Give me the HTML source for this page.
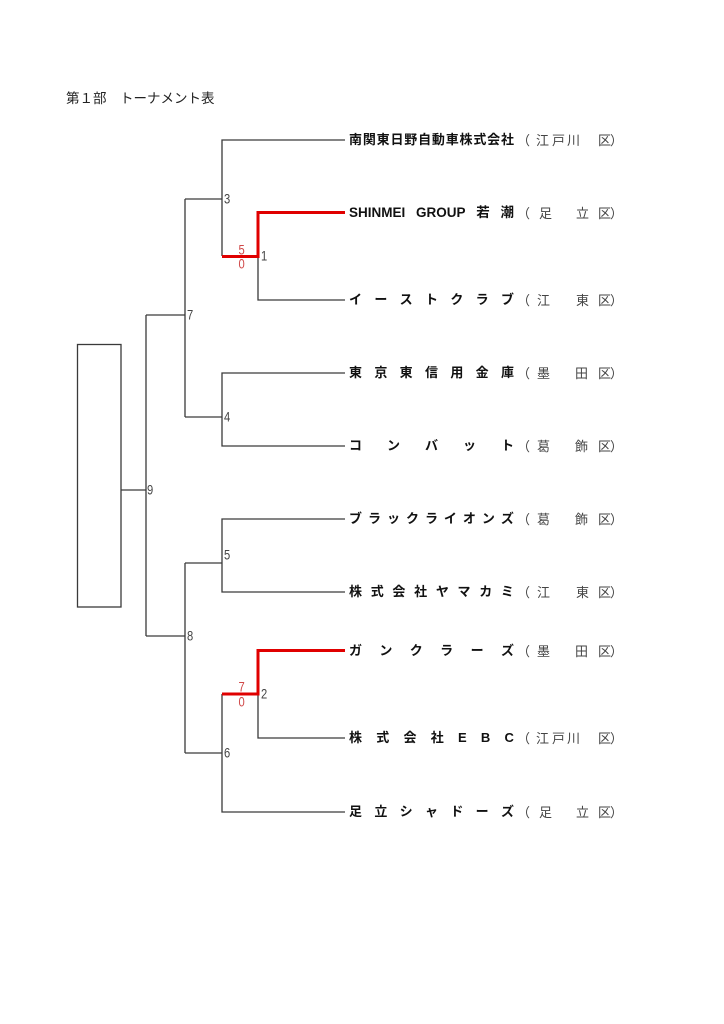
<!DOCTYPE html>
<html><head><meta charset="utf-8">
<style>
html,body{margin:0;padding:0;background:#fff;}
body{width:724px;height:1024px;position:relative;overflow:hidden;font-family:"Liberation Sans","Noto Sans CJK JP",sans-serif;}
.title{position:absolute;left:66px;top:90px;font-size:13.5px;line-height:18px;color:#222;font-family:"Liberation Sans","Noto Sans CJK JP",sans-serif;white-space:nowrap;}
.name{position:absolute;left:349px;width:165px;height:18px;display:flex;justify-content:space-between;align-items:center;font-weight:bold;font-size:13px;line-height:18px;color:#111;font-family:"Liberation Sans","Noto Sans CJK JP",sans-serif;white-space:nowrap;}
.d{position:absolute;font-size:13px;line-height:18px;height:18px;color:#444;font-family:"Noto Sans CJK JP",sans-serif;}
.lbl{font-family:"Liberation Sans Narrow","Liberation Sans",sans-serif;font-size:14px;fill:#444;}
.sc{font-family:"Liberation Sans Narrow","Liberation Sans",sans-serif;font-size:14px;fill:#d04848;}
</style></head><body>
<div class="title">第１部　トーナメント表</div>

<svg width="724" height="1024" style="position:absolute;left:0;top:0">
<g stroke="#3a3a3a" stroke-width="1.3" fill="none">
<rect x="77.5" y="344.5" width="43.5" height="262.5"/>
<path d="M121,490 H146"/>
<path d="M146,315 V636"/>
<path d="M146,315 H185"/>
<path d="M146,636 H185"/>
<path d="M185,199 V417"/>
<path d="M185,199 H222"/>
<path d="M185,417 H222"/>
<path d="M185,563 V753"/>
<path d="M185,563 H222"/>
<path d="M185,753 H222"/>
<path d="M345,140 H222 V256"/>
<path d="M258,256 V300 H345"/>
<path d="M345,373 H222 V446 H345"/>
<path d="M345,519 H222 V592 H345"/>
<path d="M222,694 V812 H345"/>
<path d="M258,694 V738 H345"/>
</g>
<g stroke="#e00000" stroke-width="3" fill="none" stroke-linejoin="miter">
<path d="M222,256.5 H258 V212.5 H345"/>
<path d="M222,694 H258 V650.5 H345"/>
</g>
<g dominant-baseline="central">
<text transform="translate(224,199) scale(0.8,1)" class="lbl">3</text>
<text transform="translate(261,256) scale(0.8,1)" class="lbl">1</text>
<text transform="translate(187,315) scale(0.8,1)" class="lbl">7</text>
<text transform="translate(224,417) scale(0.8,1)" class="lbl">4</text>
<text transform="translate(147,490) scale(0.8,1)" class="lbl">9</text>
<text transform="translate(224,555) scale(0.8,1)" class="lbl">5</text>
<text transform="translate(187,636) scale(0.8,1)" class="lbl">8</text>
<text transform="translate(261,694) scale(0.8,1)" class="lbl">2</text>
<text transform="translate(224,753) scale(0.8,1)" class="lbl">6</text>
<text transform="translate(238.5,250) scale(0.8,1)" class="sc">5</text>
<text transform="translate(238.5,264) scale(0.8,1)" class="sc">0</text>
<text transform="translate(238.5,687) scale(0.8,1)" class="sc">7</text>
<text transform="translate(238.5,702) scale(0.8,1)" class="sc">0</text>
</g>
</svg>

<!-- row 1 -->
<div class="name" style="top:131px"><span>南</span><span>関</span><span>東</span><span>日</span><span>野</span><span>自</span><span>動</span><span>車</span><span>株</span><span>式</span><span>会</span><span>社</span></div>
<span class="d" style="left:517px;top:131px">（</span><span class="d" style="left:536px;top:131px">江</span><span class="d" style="left:552px;top:131px">戸</span><span class="d" style="left:567px;top:131px">川</span><span class="d" style="left:598px;top:131px">区</span><span class="d" style="left:610px;top:131px">）</span>
<!-- row 2 -->
<div class="name" style="top:204px;font-size:13.5px"><span>SHINMEI</span><span>GROUP</span><span>若</span><span>潮</span></div>
<span class="d" style="left:517px;top:204px">（</span><span class="d" style="left:539px;top:204px">足</span><span class="d" style="left:576px;top:204px">立</span><span class="d" style="left:598px;top:204px">区</span><span class="d" style="left:610px;top:204px">）</span>
<!-- row 3 -->
<div class="name" style="top:291px"><span>イ</span><span>ー</span><span>ス</span><span>ト</span><span>ク</span><span>ラ</span><span>ブ</span></div>
<span class="d" style="left:517px;top:291px">（</span><span class="d" style="left:537px;top:291px">江</span><span class="d" style="left:576px;top:291px">東</span><span class="d" style="left:598px;top:291px">区</span><span class="d" style="left:610px;top:291px">）</span>
<!-- row 4 -->
<div class="name" style="top:364px"><span>東</span><span>京</span><span>東</span><span>信</span><span>用</span><span>金</span><span>庫</span></div>
<span class="d" style="left:517px;top:364px">（</span><span class="d" style="left:537px;top:364px">墨</span><span class="d" style="left:575px;top:364px">田</span><span class="d" style="left:598px;top:364px">区</span><span class="d" style="left:610px;top:364px">）</span>
<!-- row 5 -->
<div class="name" style="top:437px"><span>コ</span><span>ン</span><span>バ</span><span>ッ</span><span>ト</span></div>
<span class="d" style="left:517px;top:437px">（</span><span class="d" style="left:537px;top:437px">葛</span><span class="d" style="left:575px;top:437px">飾</span><span class="d" style="left:598px;top:437px">区</span><span class="d" style="left:610px;top:437px">）</span>
<!-- row 6 -->
<div class="name" style="top:510px"><span>ブ</span><span>ラ</span><span>ッ</span><span>ク</span><span>ラ</span><span>イ</span><span>オ</span><span>ン</span><span>ズ</span></div>
<span class="d" style="left:517px;top:510px">（</span><span class="d" style="left:537px;top:510px">葛</span><span class="d" style="left:575px;top:510px">飾</span><span class="d" style="left:598px;top:510px">区</span><span class="d" style="left:610px;top:510px">）</span>
<!-- row 7 -->
<div class="name" style="top:583px"><span>株</span><span>式</span><span>会</span><span>社</span><span>ヤ</span><span>マ</span><span>カ</span><span>ミ</span></div>
<span class="d" style="left:517px;top:583px">（</span><span class="d" style="left:537px;top:583px">江</span><span class="d" style="left:576px;top:583px">東</span><span class="d" style="left:598px;top:583px">区</span><span class="d" style="left:610px;top:583px">）</span>
<!-- row 8 -->
<div class="name" style="top:642px"><span>ガ</span><span>ン</span><span>ク</span><span>ラ</span><span>ー</span><span>ズ</span></div>
<span class="d" style="left:517px;top:642px">（</span><span class="d" style="left:537px;top:642px">墨</span><span class="d" style="left:575px;top:642px">田</span><span class="d" style="left:598px;top:642px">区</span><span class="d" style="left:610px;top:642px">）</span>
<!-- row 9 -->
<div class="name" style="top:729px"><span>株</span><span>式</span><span>会</span><span>社</span><span>E</span><span>B</span><span>C</span></div>
<span class="d" style="left:517px;top:729px">（</span><span class="d" style="left:536px;top:729px">江</span><span class="d" style="left:552px;top:729px">戸</span><span class="d" style="left:567px;top:729px">川</span><span class="d" style="left:598px;top:729px">区</span><span class="d" style="left:610px;top:729px">）</span>
<!-- row 10 -->
<div class="name" style="top:803px"><span>足</span><span>立</span><span>シ</span><span>ャ</span><span>ド</span><span>ー</span><span>ズ</span></div>
<span class="d" style="left:517px;top:803px">（</span><span class="d" style="left:539px;top:803px">足</span><span class="d" style="left:576px;top:803px">立</span><span class="d" style="left:598px;top:803px">区</span><span class="d" style="left:610px;top:803px">）</span>
</body></html>
